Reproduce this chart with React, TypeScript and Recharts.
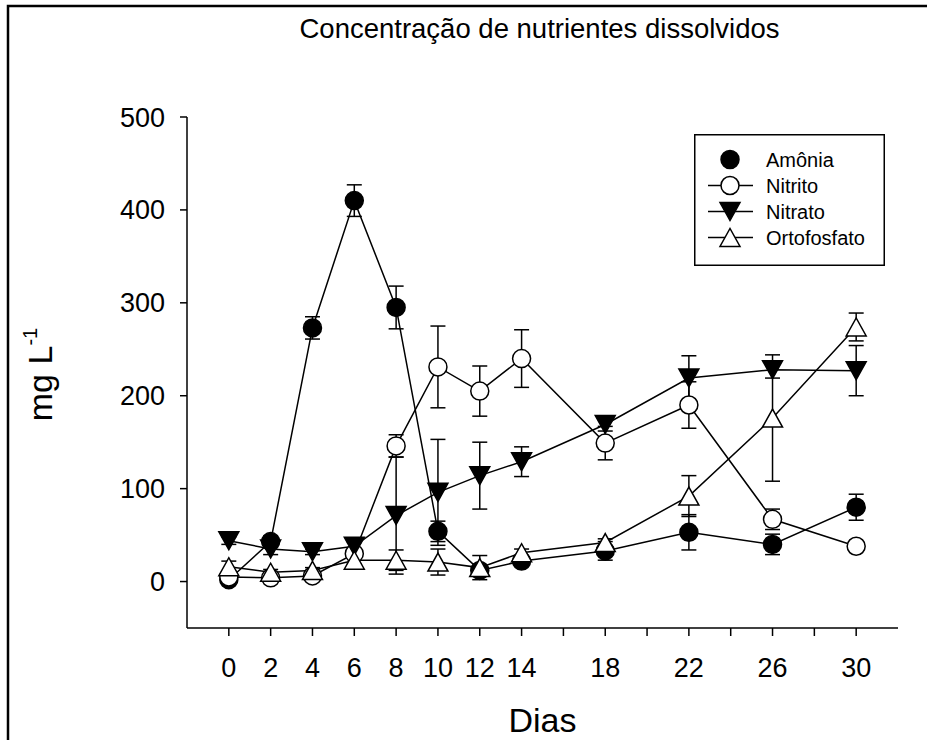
import React from 'react';
import { LineChart, Line, XAxis, YAxis, ErrorBar, Legend } from 'recharts';

const days = [0, 2, 4, 6, 8, 10, 12, 14, 18, 22, 26, 30];
const amonia = [2, 43, 273, 410, 295, 54, 12, 22, 33, 53, 40, 80];
const amoniaErr = [2, 6, 12, 17, 23, 11, 4, 5, 10, 19, 11, 14];
const nitrito = [5, 4, 6, 30, 146, 231, 205, 240, 149, 190, 67, 38];
const nitritoErr = [3, 2, 3, 5, 12, 44, 27, 31, 18, 25, 11, 3];
const nitrato = [44, 35, 32, 38, 71, 96, 114, 129, 169, 219, 228, 227];
const nitratoErr = [4, 6, 3, 4, 63, 57, 36, 16, 7, 24, 9, 27];
const orto = [16, 10, 12, 23, 23, 21, 15, 31, 42, 92, 176, 274];
const ortoErr = [6, 3, 3, 4, 11, 14, 13, 4, 4, 22, 68, 15];

const xTicks = [0, 2, 4, 6, 8, 10, 12, 14, 16, 18, 20, 22, 24, 26, 28, 30];
const xLabeled = [0, 2, 4, 6, 8, 10, 12, 14, 18, 22, 26, 30];
const yTicks = [0, 100, 200, 300, 400, 500];

const seriesNames = ['Amônia', 'Nitrito', 'Nitrato', 'Ortofosfato'];

const data = days.map((d, i) => ({
  d,
  amonia: amonia[i],
  amoniaErr: amoniaErr[i],
  nitrito: nitrito[i],
  nitritoErr: nitritoErr[i],
  nitrato: nitrato[i],
  nitratoErr: nitratoErr[i],
  orto: orto[i],
  ortoErr: ortoErr[i],
}));

const FONT = '"Liberation Sans", Arial, Helvetica, sans-serif';
const SW = 1.5;

type Kind = 'filledCircle' | 'openCircle' | 'filledDown' | 'openUp';

const Marker = ({ kind, cx, cy }: { kind: Kind; cx: number; cy: number }) => {
  if (cx == null || cy == null || isNaN(cx) || isNaN(cy)) return null;
  if (kind === 'filledCircle') return <circle cx={cx} cy={cy} r={9} fill="#000" stroke="#000" strokeWidth={SW} />;
  if (kind === 'openCircle') return <circle cx={cx} cy={cy} r={9} fill="#fff" stroke="#000" strokeWidth={SW} />;
  const w = 10;
  const h = 9;
  if (kind === 'filledDown')
    return (
      <polygon
        points={`${cx - w},${cy - h} ${cx + w},${cy - h} ${cx},${cy + h}`}
        fill="#000"
        stroke="#000"
        strokeWidth={SW}
      />
    );
  return (
    <polygon
      points={`${cx - w},${cy + h} ${cx + w},${cy + h} ${cx},${cy - h}`}
      fill="#fff"
      stroke="#000"
      strokeWidth={SW}
    />
  );
};

const makeDot = (kind: Kind, name: string) => (props: any) => (
  <Marker key={`${name}-${props.index}`} kind={kind} cx={props.cx} cy={props.cy} />
);

const legendKinds: Kind[] = ['filledCircle', 'openCircle', 'filledDown', 'openUp'];
const legendHasLine = [false, true, true, true];

const renderLegend = () => (
  <svg width={191} height={132} style={{ display: 'block' }}>
    <rect x={0.75} y={0.75} width={189.5} height={130.5} fill="#fff" stroke="#000" strokeWidth={SW} />
    {seriesNames.map((name, i) => {
      const cy = 25.5 + i * 26;
      return (
        <g key={name}>
          {legendHasLine[i] && <line x1={14} x2={59} y1={cy} y2={cy} stroke="#000" strokeWidth={SW} />}
          <Marker kind={legendKinds[i]} cx={36} cy={cy} />
          <text x={72} y={cy} dy="0.35em" fontSize={20} fontFamily={FONT} fill="#000">
            {name}
          </text>
        </g>
      );
    })}
  </svg>
);

const axisCommon = {
  stroke: '#000',
  strokeWidth: SW,
  tickLine: { stroke: '#000', strokeWidth: SW },
  axisLine: { stroke: '#000', strokeWidth: SW },
};

export default function App() {
  return (
    <div style={{ position: 'absolute', left: 0, top: 0, width: 927, height: 740, overflow: 'hidden', background: '#fff' }}>
      <svg width={927} height={740} style={{ position: 'absolute', left: 0, top: 0 }}>
        <rect x={8} y={6} width={1200} height={1200} fill="none" stroke="#000" strokeWidth={2.5} />
        <text x={539.5} y={38.3} textAnchor="middle" fontSize={27.5} fontFamily={FONT} fill="#000">
          Concentração de nutrientes dissolvidos
        </text>
        <text x={542.5} y={731.7} textAnchor="middle" fontSize={34} fontFamily={FONT} fill="#000">
          Dias
        </text>
        <text
          x={52}
          y={374.5}
          textAnchor="middle"
          fontSize={34}
          fontFamily={FONT}
          fill="#000"
          transform="rotate(-90, 52, 374.5)"
        >
          <tspan>mg L</tspan>
          <tspan dy={-15} fontSize={20}>-1</tspan>
        </text>
      </svg>
      <div style={{ position: 'absolute', left: 0, top: 0 }}>
        <LineChart width={927} height={740} data={data} margin={{ top: 117, right: 29, bottom: 52, left: 127 }}>
          <XAxis
            dataKey="d"
            type="number"
            domain={[-2, 32]}
            ticks={xTicks}
            allowDataOverflow
            interval={0}
            tickFormatter={(v: number) => (xLabeled.includes(v) ? String(v) : '')}
            height={60}
            tickSize={8}
            tickMargin={22}
            tick={{ fill: '#000', fontSize: 27, fontFamily: FONT }}
            {...axisCommon}
          />
          <XAxis
            xAxisId="top"
            orientation="top"
            dataKey="d"
            type="number"
            domain={[-2, 32]}
            allowDataOverflow
            height={0}
            tick={false}
            tickLine={false}
            axisLine={{ stroke: '#000', strokeWidth: SW }}
          />
          <YAxis
            type="number"
            domain={[-50, 500]}
            ticks={yTicks}
            allowDataOverflow
            interval={0}
            width={60}
            tickSize={7}
            tickMargin={15}
            tick={{ fill: '#000', fontSize: 27, fontFamily: FONT }}
            {...axisCommon}
          />
          <YAxis
            yAxisId="right"
            orientation="right"
            type="number"
            domain={[-50, 500]}
            allowDataOverflow
            width={0}
            tick={false}
            tickLine={false}
            axisLine={{ stroke: '#000', strokeWidth: SW }}
          />
          <Legend
            layout="vertical"
            align="center"
            verticalAlign="middle"
            content={renderLegend}
            wrapperStyle={{ position: 'absolute', left: 694, top: 134, width: 191, height: 132 }}
          />
          <Line
            name="Amônia"
            dataKey="amonia"
            stroke="#000"
            strokeWidth={SW}
            isAnimationActive={false}
            dot={makeDot('filledCircle', 'amonia')}
            activeDot={false}
          >
            <ErrorBar dataKey="amoniaErr" direction="y" width={7.5} stroke="#000" strokeWidth={SW} />
          </Line>
          <Line
            name="Nitrito"
            dataKey="nitrito"
            stroke="#000"
            strokeWidth={SW}
            isAnimationActive={false}
            dot={makeDot('openCircle', 'nitrito')}
            activeDot={false}
          >
            <ErrorBar dataKey="nitritoErr" direction="y" width={7.5} stroke="#000" strokeWidth={SW} />
          </Line>
          <Line
            name="Nitrato"
            dataKey="nitrato"
            stroke="#000"
            strokeWidth={SW}
            isAnimationActive={false}
            dot={makeDot('filledDown', 'nitrato')}
            activeDot={false}
          >
            <ErrorBar dataKey="nitratoErr" direction="y" width={7.5} stroke="#000" strokeWidth={SW} />
          </Line>
          <Line
            name="Ortofosfato"
            dataKey="orto"
            stroke="#000"
            strokeWidth={SW}
            isAnimationActive={false}
            dot={makeDot('openUp', 'orto')}
            activeDot={false}
          >
            <ErrorBar dataKey="ortoErr" direction="y" width={7.5} stroke="#000" strokeWidth={SW} />
          </Line>
        </LineChart>
      </div>
    </div>
  );
}
